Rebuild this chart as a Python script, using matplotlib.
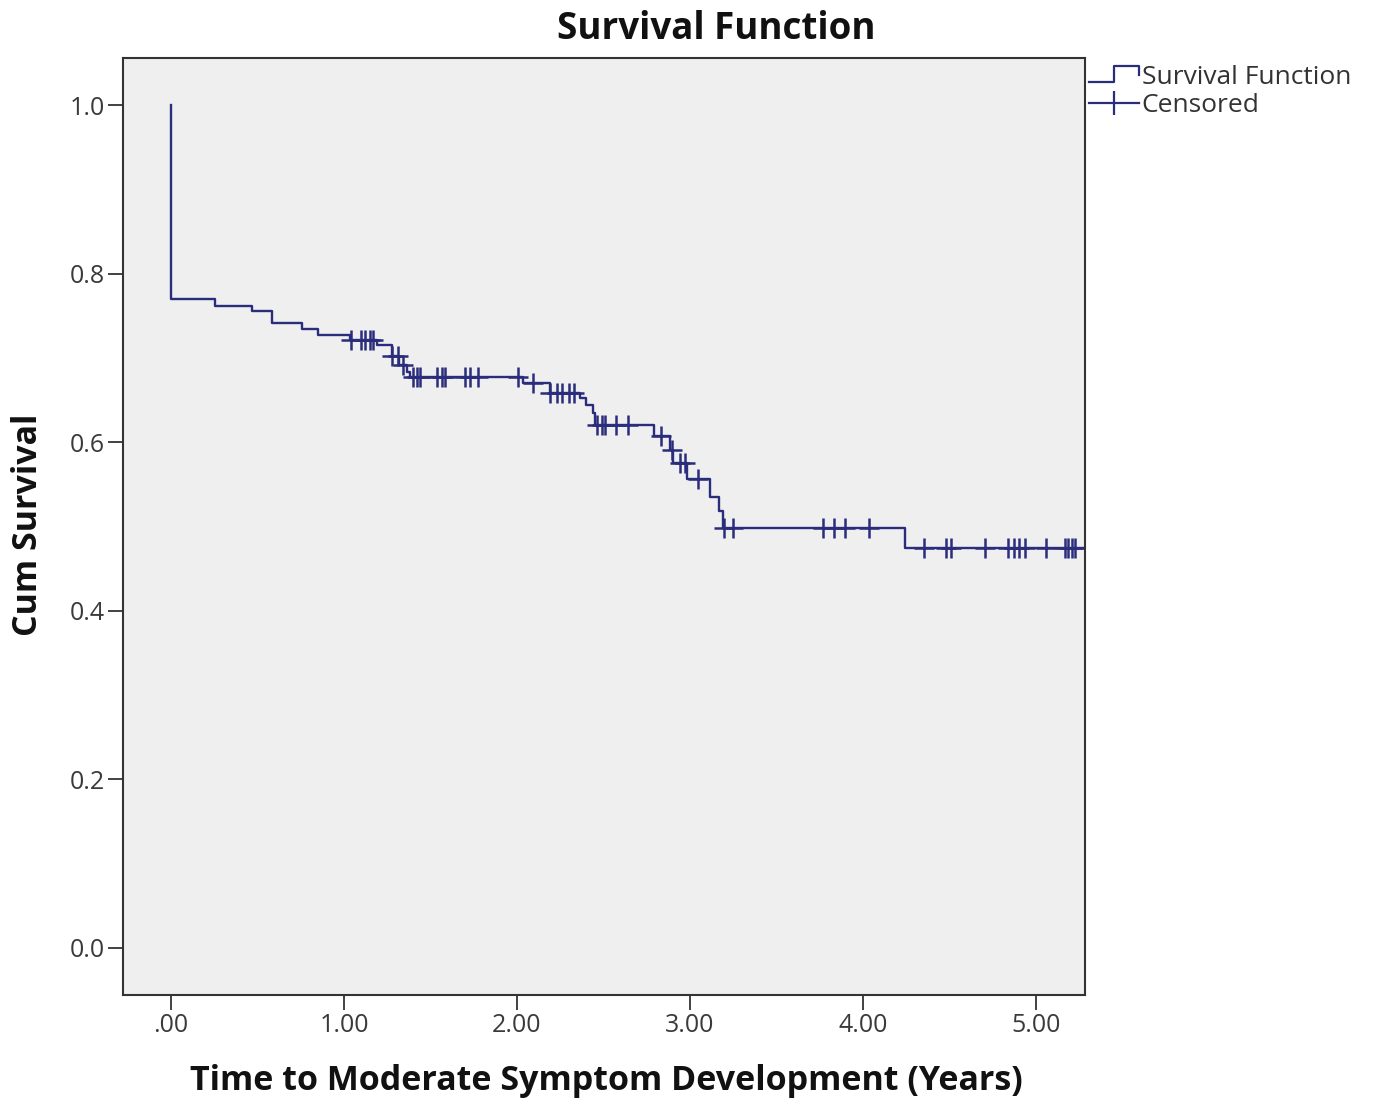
import numpy as np
import matplotlib
matplotlib.use("Agg")
import matplotlib.pyplot as plt
from matplotlib.lines import Line2D
from matplotlib.legend_handler import HandlerBase

# ---- data ----
step_times = [0.0, 0.0, 0.254, 0.466, 0.582, 0.755, 0.851, 1.035, 1.19, 1.275, 1.32, 1.365,
              1.38, 2.035, 2.19, 2.364, 2.40, 2.44, 2.45, 2.79, 2.885, 2.90, 2.98, 3.116,
              3.17, 3.19, 4.243]
step_surv = [1.0, 0.770, 0.762, 0.756, 0.742, 0.734, 0.727, 0.721, 0.715, 0.702, 0.692, 0.683,
             0.678, 0.670, 0.659, 0.652, 0.644, 0.635, 0.621, 0.607, 0.591, 0.575, 0.556,
             0.535, 0.518, 0.498, 0.474]
end_time = 5.283
censor_times = [1.04, 1.10, 1.12, 1.15, 1.17, 1.28, 1.31, 1.34, 1.40, 1.42, 1.44, 1.54, 1.565,
                1.585, 1.70, 1.728, 1.775, 2.007, 2.09, 2.19, 2.23, 2.26, 2.30, 2.33, 2.46,
                2.49, 2.51, 2.57, 2.64, 2.83, 2.895, 2.94, 2.97, 3.047, 3.195, 3.25, 3.767,
                3.832, 3.896, 4.037, 4.35, 4.478, 4.507, 4.705, 4.84, 4.87, 4.90, 4.936, 5.06,
                5.168, 5.187, 5.206, 5.225]
x_ticks = [0, 1, 2, 3, 4, 5]
x_ticklabels = [".00", "1.00", "2.00", "3.00", "4.00", "5.00"]
y_ticks = [0.0, 0.2, 0.4, 0.6, 0.8, 1.0]
y_ticklabels = ["0.0", "0.2", "0.4", "0.6", "0.8", "1.0"]

LINE = "#2a2c7c"
TXT = "#333333"
plt.rcParams['font.family'] = ['Open Sans', 'DejaVu Sans']

W, H = 1375, 1106
fig = plt.figure(figsize=(W / 100, H / 100), dpi=100)
ax = fig.add_axes([123 / W, 1 - 995 / H, (1085 - 123) / W, (995 - 58) / H])
ax.set_facecolor("#efefef")

xs = list(step_times) + [end_time]
ys = list(step_surv) + [step_surv[-1]]
ax.step(xs, ys, where="post", color=LINE, lw=1.7)

st = np.array(step_times)
sv = np.array(step_surv)
cy = [sv[np.searchsorted(st, t, side="right") - 1] for t in censor_times]
ax.plot(censor_times, cy, linestyle="none", marker="+", markersize=14,
        markeredgewidth=1.8, color=LINE)

ax.set_xlim(-0.277, 5.283)
ax.set_ylim(-0.056, 1.056)
ax.set_xticks(x_ticks)
ax.set_xticklabels(x_ticklabels)
ax.set_yticks(y_ticks)
ax.set_yticklabels(y_ticklabels)
ax.tick_params(direction="out", length=11, width=1.3, colors=TXT,
               labelsize=18, labelcolor="#3a3a3a", pad=2)
for s in ax.spines.values():
    s.set_color(TXT)
    s.set_linewidth(1.5)

fig.text(716 / W, 1 - 29 / H, "Survival Function", fontsize=26.5, fontweight="bold",
         ha="center", va="center", color="#111111")
ax.set_xlabel("Time to Moderate Symptom Development (Years)", fontsize=24.5,
              fontweight="bold", color="#111111")
ax.xaxis.label.set_va("center")
ax.xaxis.set_label_coords((606 - 123) / (1085 - 123), (995 - 1081) / (995 - 58))
ax.set_ylabel("Cum Survival", fontsize=24.5, fontweight="bold", color="#111111")
ax.yaxis.label.set_va("center")
ax.yaxis.label.set_ha("center")
ax.yaxis.set_label_coords((28 - 123) / (1085 - 123), (995 - 525) / (995 - 58))


class StepHandler(HandlerBase):
    def create_artists(self, legend, orig_handle, xdescent, ydescent, width,
                       height, fontsize, trans):
        x0, x1 = -xdescent, -xdescent + width
        yb, yt = -ydescent + height * 0.1, -ydescent + height * 0.95
        xm = x0 + width * 0.5
        line = Line2D([x0, xm, xm, x1, x1], [yb, yb, yt, yt, yt - height * 0.45],
                      color=LINE, lw=1.6, transform=trans)
        return [line]


h_step = Line2D([], [], color=LINE)
h_cens = Line2D([], [], color=LINE, lw=1.6, marker="|", markersize=17,
                markeredgewidth=1.6)
leg = fig.legend([h_step, h_cens], ["Survival Function", "Censored"],
                 handler_map={h_step: StepHandler()},
                 loc="upper left", bbox_to_anchor=(1089 / W, 1 - 65 / H), frameon=False,
                 fontsize=19, handlelength=1.9, handletextpad=0.1,
                 labelspacing=0.12, borderaxespad=0.0, borderpad=0.0)
for t in leg.get_texts():
    t.set_color(TXT)

fig.savefig("out.png", dpi=100)
